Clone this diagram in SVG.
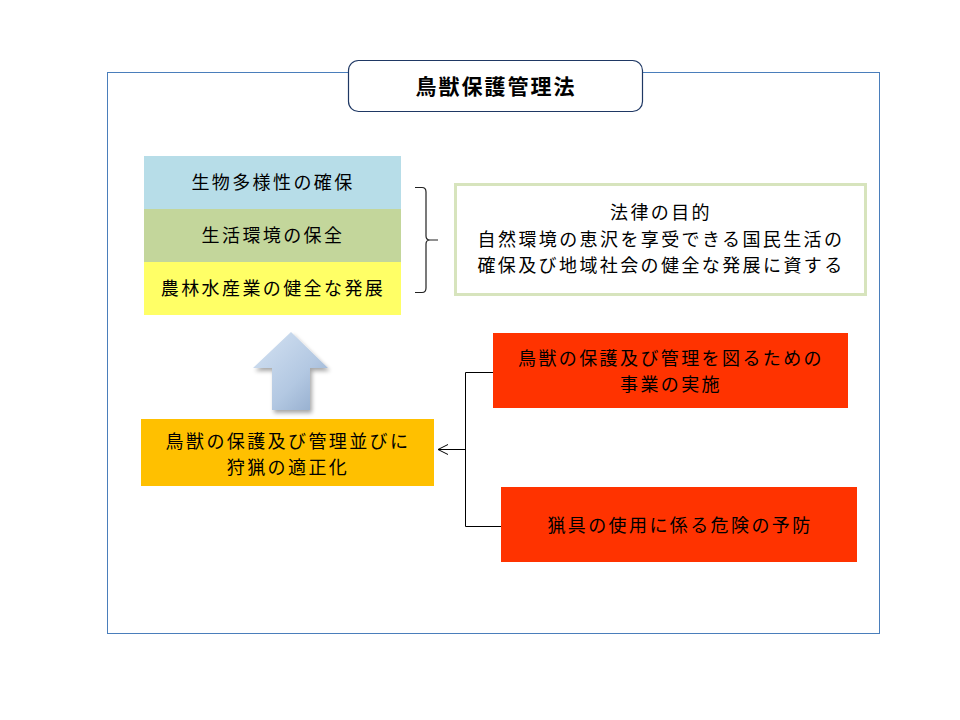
<svg xmlns="http://www.w3.org/2000/svg" width="960" height="720" viewBox="0 0 960 720">
<defs>
<style>
text{font-family:"Noto Sans CJK JP","Noto Sans CJK SC",sans-serif;font-size:18px;fill:#000;text-anchor:middle;letter-spacing:2.4px}
.title{font-size:21px;font-weight:bold;letter-spacing:2px}
.conn{fill:none;stroke:#000;stroke-width:1}
</style>
<linearGradient id="ag" x1="0" y1="0" x2="1" y2="1">
<stop offset="0" stop-color="#d5e3f3"/>
<stop offset="0.6" stop-color="#b3c8e2"/>
<stop offset="1" stop-color="#8ea8c9"/>
</linearGradient>
<filter id="sh" x="-20%" y="-20%" width="140%" height="140%">
<feGaussianBlur in="SourceAlpha" stdDeviation="2"/>
<feOffset dx="2" dy="3"/>
<feComponentTransfer><feFuncA type="linear" slope="0.35"/></feComponentTransfer>
<feMerge><feMergeNode/><feMergeNode in="SourceGraphic"/></feMerge>
</filter>
<marker id="arr" markerWidth="12" markerHeight="12" refX="11" refY="6" orient="auto" markerUnits="userSpaceOnUse">
<path d="M1,1 L11,6 L1,11" fill="none" stroke="#000" stroke-width="1"/>
</marker>
</defs>
<rect width="960" height="720" fill="#fff"/>
<g id="frame"><rect x="107.5" y="72.5" width="772" height="561" fill="none" stroke="#4a7ebb" stroke-width="1"/></g>
<g id="title"><rect x="348.5" y="60.5" width="294" height="51" rx="10" fill="#fff" stroke="#1f3864" stroke-width="1.2"/><text class="title" x="496" y="94">鳥獣保護管理法</text></g>
<g id="biodiversity"><rect x="144" y="156" width="257" height="53" fill="#b7dde8"/><text x="273" y="189">生物多様性の確保</text></g>
<g id="environment"><rect x="144" y="209" width="257" height="53" fill="#c3d69b"/><text x="273" y="242">生活環境の保全</text></g>
<g id="agriculture"><rect x="144" y="262" width="257" height="53" fill="#ffff66"/><text x="273" y="295">農林水産業の健全な発展</text></g>
<g id="brace"><path d="M415,187.5 L422,187.5 Q426,187.5 426,192 L426,236 Q426,240 430,240 L438,240 M430,240 Q426,240 426,244 L426,288 Q426,292.5 422,292.5 L415,292.5" fill="none" stroke="#222" stroke-width="1.2"/></g>
<g id="purpose"><rect x="455.5" y="184.5" width="410" height="110" fill="#fff" stroke="#d7e4bd" stroke-width="3"/>
<text x="661" y="219">法律の目的</text>
<text x="661" y="246">自然環境の恵沢を享受できる国民生活の</text>
<text x="661" y="272">確保及び地域社会の健全な発展に資する</text></g>
<g id="uparrow"><path d="M291,332 L328,368 L310,368 L310,410 L272,410 L272,368 L253,368 Z" fill="url(#ag)" filter="url(#sh)"/></g>
<g id="proper"><rect x="141" y="419" width="293" height="67" fill="#ffc000"/>
<text x="288" y="448">鳥獣の保護及び管理並びに</text>
<text x="288" y="474">狩猟の適正化</text></g>
<g id="project"><rect x="493" y="333" width="355" height="75" fill="#ff3300"/>
<text x="671" y="365">鳥獣の保護及び管理を図るための</text>
<text x="671" y="391">事業の実施</text></g>
<g id="danger"><rect x="501" y="487" width="356" height="75" fill="#ff3300"/>
<text x="680" y="532">猟具の使用に係る危険の予防</text></g>
<g id="connectors">
<path class="conn" d="M493,372.5 L465.5,372.5 L465.5,526.5 L501,526.5"/>
<path class="conn" d="M465.5,449.5 L438,449.5" marker-end="url(#arr)"/>
</g>
</svg>
